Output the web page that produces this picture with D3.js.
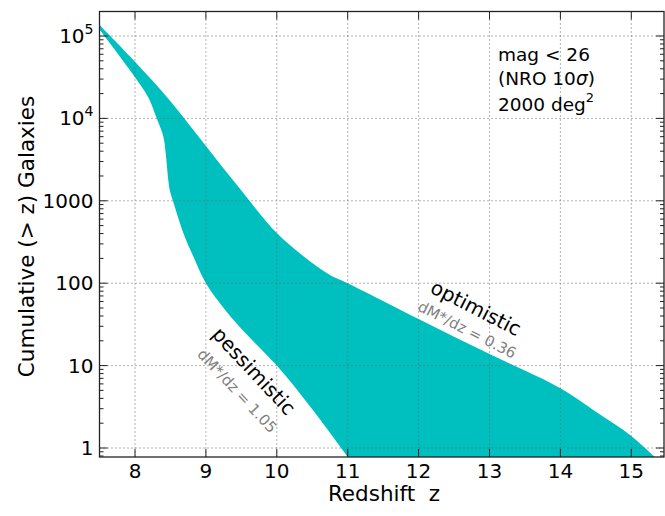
<!DOCTYPE html>
<html>
<head>
<meta charset="utf-8">
<script src="https://cdn.jsdelivr.net/npm/d3@7"></script>
<style>
  body { margin: 0; background: #fff; }
  svg { font-family: "DejaVu Sans", sans-serif; }
  .grid line { stroke: #666; stroke-width: 1; stroke-dasharray: 1,3; }
</style>
</head>
<body>
<div id="chart"></div>
<script>
// ── Data ─────────────────────────────────────────────────────────────────────
// Cumulative galaxy counts N(>z).
const optZ = [7.5, 8.0, 8.5, 9.0, 9.5, 10.0, 10.5, 10.75, 11.0,
              12.0, 13.0, 14.0, 14.5, 15.0, 15.33];
const optN = [136000, 48800, 16200, 4620, 1330, 406, 176, 126, 100,
              36.8, 13.8, 5.3, 2.75, 1.4, 0.78];

const pesZ = [7.5, 8.0, 8.19, 8.31, 8.40, 8.43, 8.47, 8.49, 8.56, 8.68, 8.82, 9.0,
              9.25, 9.5, 10.0, 10.5, 11.0];
const pesN = [120000, 31600, 17800, 9800, 6000, 4000, 1780, 1350, 850, 410, 214, 100,
              50, 28, 10, 2.95, 0.78];

const xTicks = [8, 9, 10, 11, 12, 13, 14, 15];
const yTicks = [1, 10, 100, 1000, 1e4, 1e5];
const yTickLabels = [['1'], ['10'], ['100'], ['1000'], ['10', '4'], ['10', '5']];

// ── Layout ───────────────────────────────────────────────────────────────────
const W = 665, H = 516;
const L = 99.5, R = 664, T = 11.5, B = 457;

const svg = d3.select('#chart').append('svg').attr('width', W).attr('height', H);

const x = d3.scaleLinear().domain([8, 15]).range([135, 631.3]);
const y = d3.scaleLog().domain([1, 1e5]).range([448, 36]);

svg.append('clipPath').attr('id', 'clip')
  .append('rect').attr('x', L).attr('y', T).attr('width', R - L).attr('height', B - T);

// ── Band between pessimistic and optimistic ──────────────────────────────────
const upper = optZ.map((z, i) => [x(z), y(optN[i])]);
const lower = pesZ.map((z, i) => [x(z), y(pesN[i])]);
const line = d3.line().curve(d3.curveCatmullRom.alpha(0.5));
svg.append('path')
  .attr('clip-path', 'url(#clip)')
  .attr('d', line(upper) + 'L' + line(lower.slice().reverse()).slice(1) + 'Z')
  .attr('fill', '#00bfbf');

// ── Grid (dotted, drawn over the fill) ──────────────────────────────────────
const grid = svg.append('g').attr('class', 'grid');
grid.selectAll('.gx').data(xTicks).join('line')
  .attr('x1', d => x(d)).attr('x2', d => x(d)).attr('y1', T).attr('y2', B);
grid.selectAll('.gy').data(yTicks).join('line')
  .attr('x1', L).attr('x2', R).attr('y1', d => y(d)).attr('y2', d => y(d));

// ── Ticks (inward, all four sides) ──────────────────────────────────────────
const tk = svg.append('g').attr('stroke', '#222').attr('stroke-width', 1);
xTicks.forEach(d => {
  tk.append('line').attr('x1', x(d)).attr('x2', x(d)).attr('y1', B).attr('y2', B - 8);
  tk.append('line').attr('x1', x(d)).attr('x2', x(d)).attr('y1', T).attr('y2', T + 8);
});
const minorY = [];
for (let e = -1; e <= 5; e++) for (let m = 1; m <= 9; m++) {
  const v = m * Math.pow(10, e);
  if (y(v) > T + 1 && y(v) < B - 1) minorY.push({ v, major: m === 1 });
}
minorY.forEach(({ v, major }) => {
  const len = major ? 8 : 4;
  tk.append('line').attr('x1', L).attr('x2', L + len).attr('y1', y(v)).attr('y2', y(v));
  tk.append('line').attr('x1', R).attr('x2', R - len).attr('y1', y(v)).attr('y2', y(v));
});

// ── Frame ────────────────────────────────────────────────────────────────────
svg.append('rect').attr('x', L).attr('y', T).attr('width', R - L).attr('height', B - T)
  .attr('fill', 'none').attr('stroke', '#222').attr('stroke-width', 1.3);

// ── Tick labels ─────────────────────────────────────────────────────────────
svg.append('g').selectAll('text').data(xTicks).join('text')
  .attr('x', d => x(d)).attr('y', B + 20.5)
  .attr('text-anchor', 'middle').attr('font-size', 20).attr('fill', '#000')
  .text(d => d);

const yl = svg.append('g').selectAll('text').data(yTicks).join('text')
  .attr('x', L - 6).attr('y', d => y(d) + 7)
  .attr('text-anchor', 'end').attr('font-size', 20).attr('fill', '#000');
yl.each(function (d, i) {
  const lab = yTickLabels[i];
  const t = d3.select(this);
  t.append('tspan').text(lab[0]);
  if (lab[1]) t.append('tspan').attr('dy', -9).attr('font-size', 14).text(lab[1]);
});

// ── Axis labels ─────────────────────────────────────────────────────────────
svg.append('text').attr('x', 384).attr('y', 501)
  .attr('text-anchor', 'middle').attr('font-size', 21.5)
  .attr('xml:space', 'preserve').style('white-space', 'pre')
  .text('Redshift  z');
svg.append('text')
  .attr('transform', 'translate(33.5,236.5) rotate(-90)')
  .attr('text-anchor', 'middle').attr('font-size', 21.5)
  .text('Cumulative (> z) Galaxies');

// ── Info box ────────────────────────────────────────────────────────────────
const info = svg.append('text').attr('font-size', 18.5).attr('fill', '#000');
info.append('tspan').attr('x', 498).attr('y', 61).text('mag < 26');
const l2 = info.append('tspan').attr('x', 498).attr('y', 85);
l2.append('tspan').text('(NRO 10');
l2.append('tspan').attr('font-style', 'italic').text('σ');
l2.append('tspan').text(')');
const l3 = info.append('tspan').attr('x', 498).attr('y', 111);
l3.append('tspan').text('2000 deg');
l3.append('tspan').attr('dy', -9).attr('font-size', 13).text('2');

// ── Curve annotations ───────────────────────────────────────────────────────
function note(txt, cx, cy, ang, size, color) {
  svg.append('text')
    .attr('transform', `translate(${cx},${cy}) rotate(${ang})`)
    .attr('text-anchor', 'middle').attr('dominant-baseline', 'central')
    .attr('font-size', size).attr('fill', color)
    .text(txt);
}
note('optimistic', 476, 308, 27, 20, '#000');
note('dM*/dz = 0.36', 467, 330, 27, 15, '#808080');
note('pessimistic', 254, 371, 47, 20, '#000');
note('dM*/dz = 1.05', 237, 391, 47, 15, '#808080');
</script>
</body>
</html>
